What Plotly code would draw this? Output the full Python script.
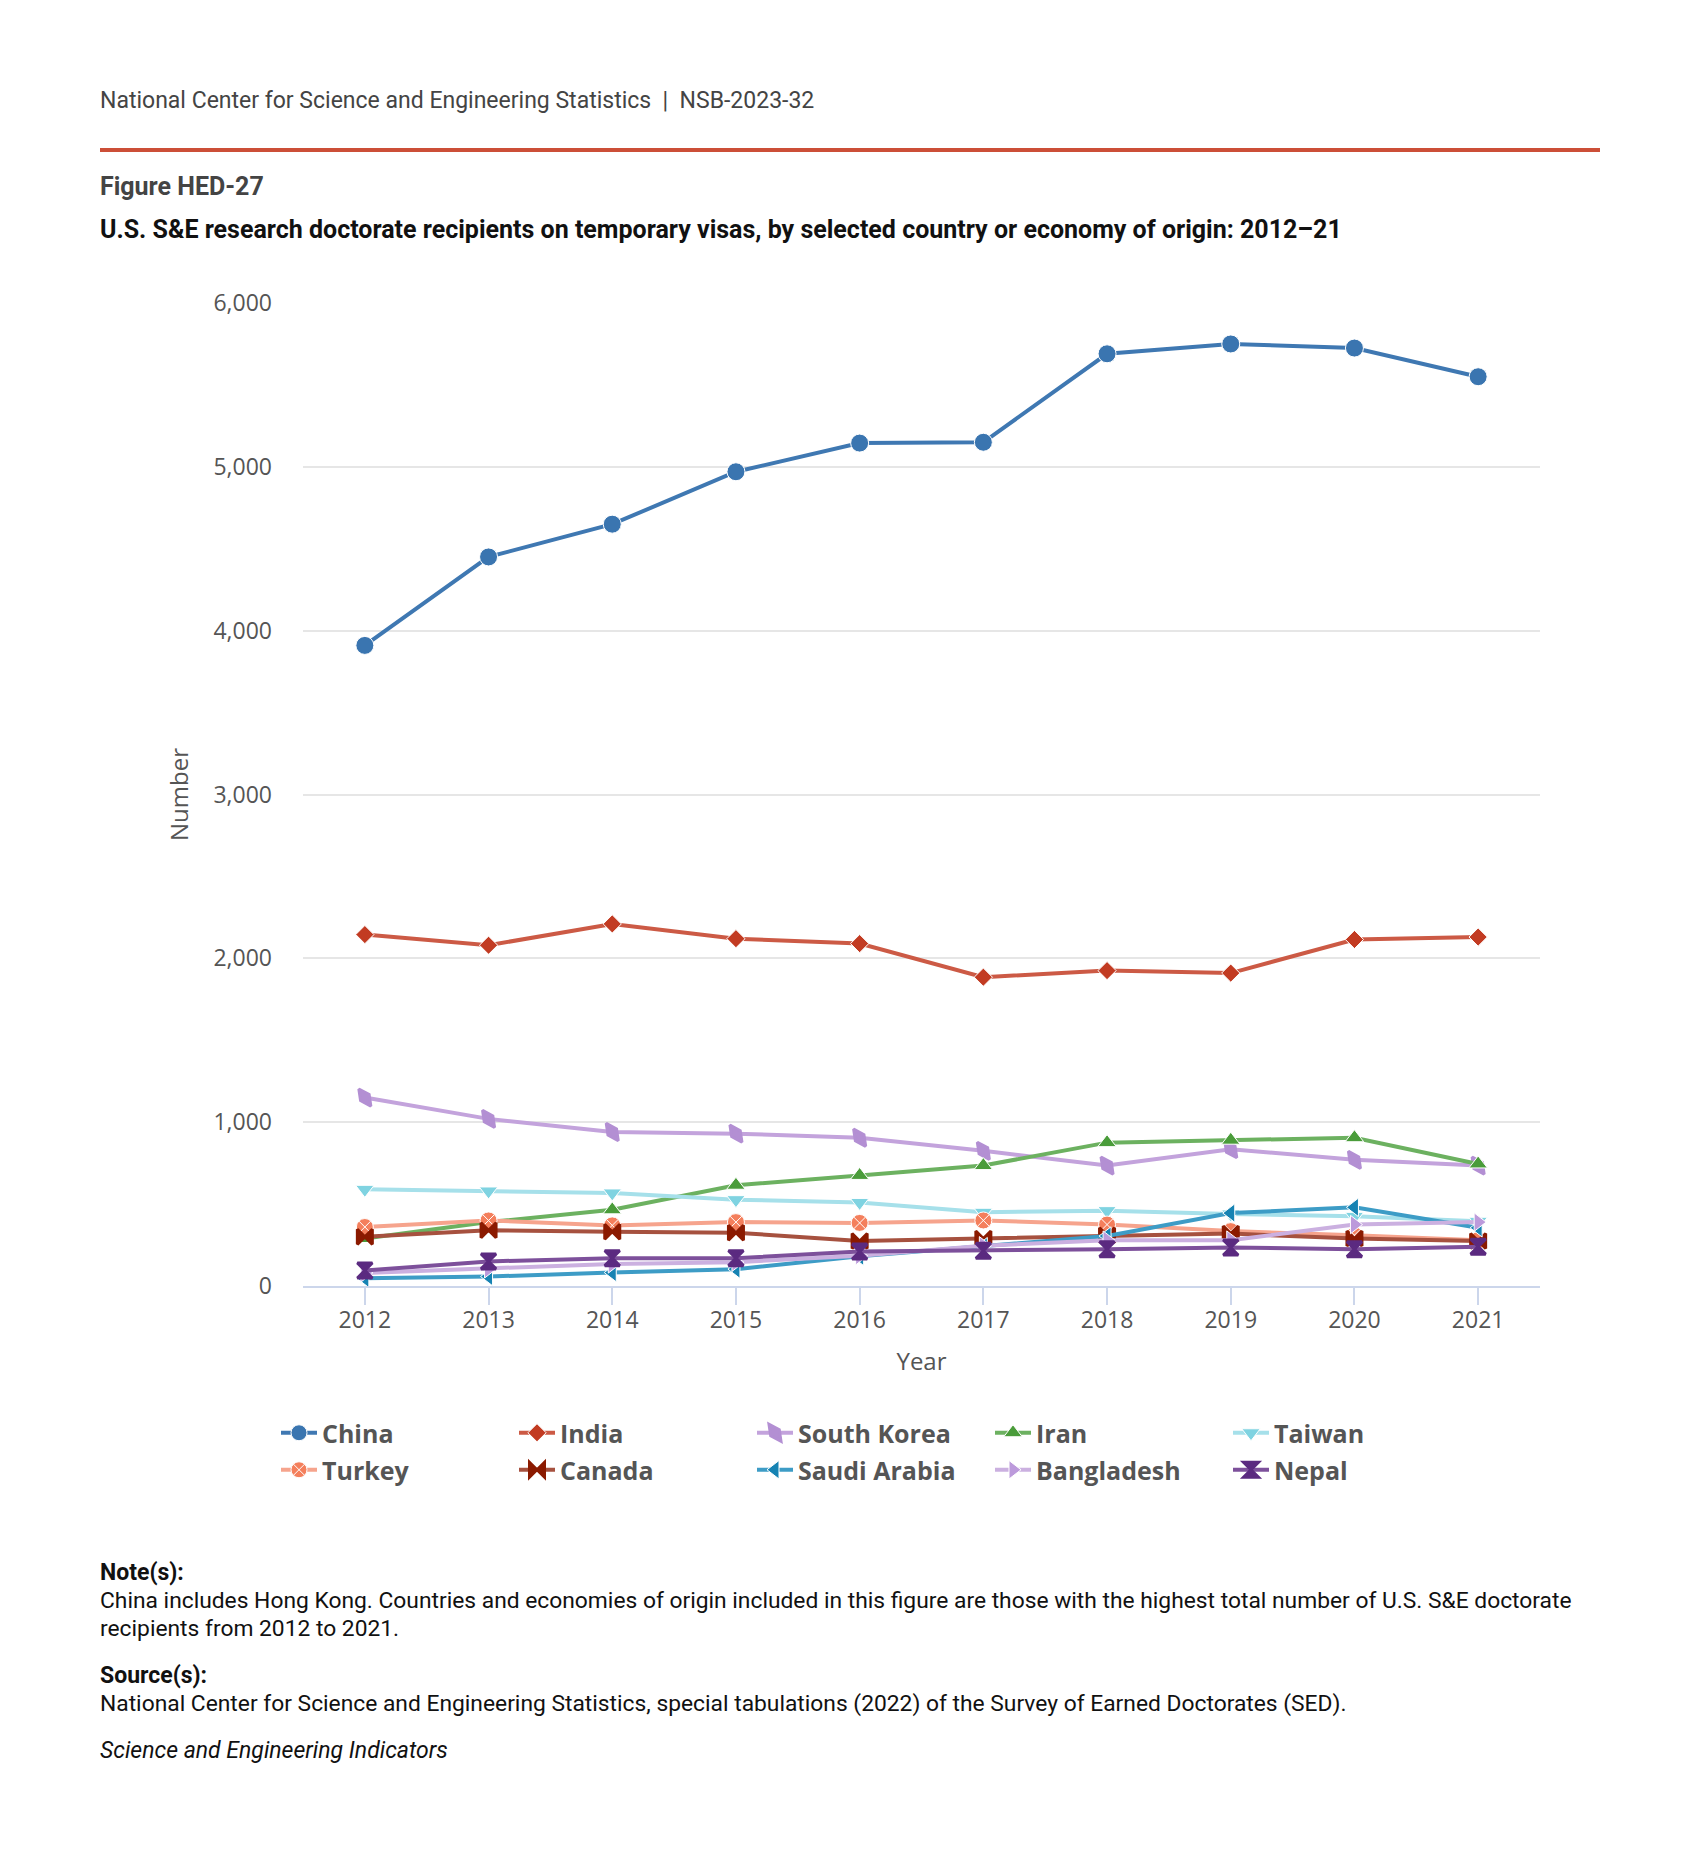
import plotly.graph_objects as go

years = [2012, 2013, 2014, 2015, 2016, 2017, 2018, 2019, 2020, 2021]
china = [3910, 4450, 4650, 4970, 5145, 5150, 5690, 5750, 5725, 5550]
india = [2145, 2080, 2210, 2120, 2090, 1885, 1925, 1910, 2115, 2130]
south_korea = [1150, 1020, 940, 930, 905, 825, 735, 835, 770, 735]
iran = [290, 390, 465, 615, 675, 735, 875, 890, 905, 745]
taiwan = [590, 580, 568, 527, 510, 450, 460, 440, 425, 395]
turkey = [360, 400, 370, 390, 385, 400, 375, 335, 310, 280]
canada = [300, 340, 331, 325, 275, 290, 310, 320, 290, 275]
saudi_arabia = [47, 58, 82, 103, 181, 240, 305, 445, 480, 355]
bangladesh = [80, 105, 135, 145, 185, 245, 280, 280, 375, 390]
nepal = [95, 150, 170, 170, 210, 215, 225, 235, 225, 240]

W, H = 1699, 1871
OFF = 8  # page body margin
L, R, T, B = 303, 1540, 303, 1286  # plot box in page pixels
PW, PH = R - L, B - T


def px(x):
    return (x - L) / PW


def py(y):
    return (B - y) / PH


# name, values, line colour, marker colour, symbol, angle, size, legend, marker outline colour, outline width
series = [
    ("China", china, "#3f78b2", "#3a75b0", "circle", 0, 18, "legend", "white", 1),
    ("India", india, "#cc5a45", "#c23b22", "diamond", 0, 14, "legend", "white", 1),
    ("South Korea", south_korea, "#c3a3dc", "#b38fd3", "diamond-tall", -35, 15, "legend", "#b38fd3", 3),
    ("Iran", iran, "#6cb160", "#4a9c3a", "triangle-up", 0, 16, "legend", "white", 1),
    ("Taiwan", taiwan, "#a6e0ea", "#7fd3e1", "triangle-down", 0, 16, "legend", "white", 1),
    ("Turkey", turkey, "#f6a48d", "#f47f5c", "circle-x", 0, 17, "legend2", "white", 1),
    ("Canada", canada, "#a6513f", "#8b1a00", "bowtie", 0, 15, "legend2", "#8b1a00", 3),
    ("Saudi Arabia", saudi_arabia, "#3d9cc6", "#1683b3", "triangle-left", 0, 16, "legend2", "white", 1),
    ("Bangladesh", bangladesh, "#cbb0e0", "#bc9adb", "triangle-right", 0, 16, "legend2", "white", 1),
    ("Nepal", nepal, "#7d509b", "#5b2a80", "hourglass", 0, 15, "legend2", "#5b2a80", 3),
]

fig = go.Figure()
for name, vals, lc, mc, sym, ang, size, leg, olc, olw in series:
    fig.add_trace(go.Scatter(
        x=years, y=vals, name=name, mode="lines+markers",
        line=dict(color=lc, width=4),
        marker=dict(symbol=sym, angle=ang, size=size, color=mc,
                    line=dict(color=olc, width=olw)),
        legend=leg,
    ))

legend_common = dict(
    orientation="h", xanchor="left", yanchor="middle",
    font=dict(family="Open Sans", size=25, color="#555555", weight="bold"),
    entrywidth=187, entrywidthmode="pixels", itemwidth=36,
    bgcolor="rgba(0,0,0,0)", itemclick=False, itemdoubleclick=False,
    traceorder="normal",
)

fig.update_layout(
    width=W, height=H,
    margin=dict(l=L - OFF, r=W - (R - OFF), t=T - OFF, b=H - (B - OFF)),
    paper_bgcolor="white", plot_bgcolor="white",
    font=dict(family="Open Sans", color="#555555", size=23),
    showlegend=True,
    legend=dict(x=px(276), y=py(1433), **legend_common),
    legend2=dict(x=px(276), y=py(1470), **legend_common),
    xaxis=dict(
        range=[2011.5, 2021.5], tickmode="linear", tick0=2012, dtick=1,
        showgrid=False, showline=True, linecolor="#ccd6eb", linewidth=2,
        ticks="outside", ticklen=17, tickwidth=2, tickcolor="#ccd6eb",
        ticklabelstandoff=-5,
        tickfont=dict(size=23, color="#555555"),
        title=dict(text="Year", font=dict(size=24, color="#555555"), standoff=20),
        zeroline=False,
    ),
    yaxis=dict(
        range=[0, 6000], tickvals=[0, 1000, 2000, 3000, 4000, 5000, 6000],
        tickformat=",d", showgrid=True, gridcolor="#e6e6e6", gridwidth=2,
        zeroline=False, showline=False, ticks="",
        ticklabelstandoff=30,
        tickfont=dict(size=23, color="#555555"),
        title=dict(text="Number", font=dict(size=24, color="#555555"), standoff=18),
    ),
)

ann = []
def text(x, y, s, size, color, bold=False, italic=False):
    ann.append(dict(
        x=px(x), y=py(y), xref="paper", yref="paper", text=s, showarrow=False,
        xanchor="left", yanchor="middle", align="left",
        font=dict(family="Roboto", size=size, color=color,
                  weight="bold" if bold else "normal",
                  style="italic" if italic else "normal"),
    ))

TX = 98
text(TX, 100, "National Center for Science and Engineering Statistics  |  NSB-2023-32", 23, "#444444")
text(TX, 187, "Figure HED-27", 25, "#444444", bold=True)
text(TX, 230, "U.S. S&E research doctorate recipients on temporary visas, by selected country or economy of origin: 2012–21", 25, "#111111", bold=True)
text(TX, 1572, "Note(s):", 23, "#111111", bold=True)
text(TX, 1600, "China includes Hong Kong. Countries and economies of origin included in this figure are those with the highest total number of U.S. S&E doctorate", 22.8, "#111111")
text(TX, 1628, "recipients from 2012 to 2021.", 22.8, "#111111")
text(TX, 1675, "Source(s):", 23, "#111111", bold=True)
text(TX, 1703, "National Center for Science and Engineering Statistics, special tabulations (2022) of the Survey of Earned Doctorates (SED).", 22.8, "#111111")
text(TX, 1750, "Science and Engineering Indicators", 23, "#111111", italic=True)
fig.update_layout(annotations=ann)

fig.add_shape(type="line", xref="paper", yref="paper",
              x0=px(100), x1=px(1600), y0=py(150), y1=py(150),
              line=dict(color="#cc4f38", width=4))

fig.write_html("out.html")
